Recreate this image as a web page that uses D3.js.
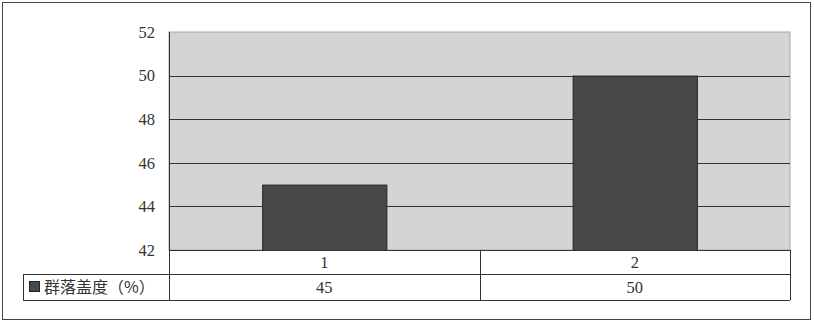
<!DOCTYPE html>
<html>
<head>
<meta charset="utf-8">
<script src="https://cdn.jsdelivr.net/npm/d3@7"></script>
<style>
  body { margin: 0; background: #fff; }
  svg { display: block; }
</style>
</head>
<body>
<svg id="chart" width="814" height="323"></svg>
<script>
// chart data
const categories = ["1", "2"];
const seriesName = "群落盖度（%）";
const seriesValues = [45, 50];
const yTicks = [42, 44, 46, 48, 50, 52];

const width = 814;
const height = 323;
const plot = { left: 169, right: 790, top: 32, bottom: 250 };
const rowH = [24, 26];
const legendLeft = 23;
const numFont = "'Liberation Serif', 'DejaVu Serif', serif";
const cjkFont = "'Noto Sans CJK SC', sans-serif";
const barColor = "#484848";

const svg = d3.select("#chart");

// outer frame
svg.append("rect")
  .attr("x", 2.5).attr("y", 2.5)
  .attr("width", 808).attr("height", 317)
  .attr("fill", "#fff")
  .attr("stroke", "#444");

const x = d3.scaleBand()
  .domain(categories)
  .range([plot.left, plot.right])
  .paddingInner(0.6)
  .paddingOuter(0.3);

const y = d3.scaleLinear()
  .domain([d3.min(yTicks), d3.max(yTicks)])
  .range([plot.bottom, plot.top]);

// plot background
svg.append("rect")
  .attr("x", plot.left).attr("y", plot.top)
  .attr("width", plot.right - plot.left)
  .attr("height", plot.bottom - plot.top)
  .attr("fill", "#d4d4d4")
  .attr("stroke", "#a8a8a8");

// gridlines
svg.append("g")
  .selectAll("line")
  .data(yTicks.slice(1, -1))
  .join("line")
  .attr("x1", plot.left).attr("x2", plot.right)
  .attr("y1", (d) => Math.round(y(d)) + 0.5)
  .attr("y2", (d) => Math.round(y(d)) + 0.5)
  .attr("stroke", "#333");

// y axis labels
const yAxis = svg.append("g")
  .attr("transform", `translate(${plot.left}, 0)`)
  .call(d3.axisLeft(y).tickValues(yTicks).tickSize(0).tickPadding(14));
yAxis.select(".domain").remove();
yAxis.selectAll("text")
  .attr("font-family", numFont)
  .attr("font-size", 16.5)
  .attr("fill", "#333");

// bars
svg.append("g")
  .selectAll("rect")
  .data(seriesValues)
  .join("rect")
  .attr("x", (d, i) => x(categories[i]) + 0.5)
  .attr("y", (d) => y(d) + 0.5)
  .attr("width", x.bandwidth())
  .attr("height", (d) => y(yTicks[0]) - y(d))
  .attr("fill", barColor)
  .attr("stroke", "#222");

// left plot edge
svg.append("line")
  .attr("x1", plot.left + 0.5).attr("x2", plot.left + 0.5)
  .attr("y1", plot.top).attr("y2", plot.bottom + rowH[0] + rowH[1])
  .attr("stroke", "#333");

// data table
const tableTop = plot.bottom;
const rowY = [tableTop, tableTop + rowH[0], tableTop + rowH[0] + rowH[1]];
const table = svg.append("g").attr("stroke", "#333").attr("fill", "none");

table.append("line")
  .attr("x1", plot.left).attr("x2", plot.right)
  .attr("y1", rowY[0] + 0.5).attr("y2", rowY[0] + 0.5);
table.append("line")
  .attr("x1", legendLeft).attr("x2", plot.right)
  .attr("y1", rowY[1] + 0.5).attr("y2", rowY[1] + 0.5);
table.append("line")
  .attr("x1", legendLeft).attr("x2", plot.right)
  .attr("y1", rowY[2] + 0.5).attr("y2", rowY[2] + 0.5);
table.append("line")
  .attr("x1", legendLeft + 0.5).attr("x2", legendLeft + 0.5)
  .attr("y1", rowY[1]).attr("y2", rowY[2]);
table.append("line")
  .attr("x1", plot.right + 0.5).attr("x2", plot.right + 0.5)
  .attr("y1", rowY[0]).attr("y2", rowY[2]);

// column dividers between categories
const step = x.step();
categories.slice(1).forEach((c) => {
  const xv = Math.round(x(c) + x.bandwidth() / 2 - step / 2) + 0.5;
  table.append("line")
    .attr("x1", xv).attr("x2", xv)
    .attr("y1", rowY[0]).attr("y2", rowY[2]);
});

// category labels
svg.append("g")
  .selectAll("text")
  .data(categories)
  .join("text")
  .attr("x", (d) => x(d) + x.bandwidth() / 2)
  .attr("y", rowY[0] + rowH[0] / 2 + 6)
  .attr("text-anchor", "middle")
  .attr("font-family", numFont)
  .attr("font-size", 16.5)
  .attr("fill", "#333")
  .text((d) => d);

// value labels
svg.append("g")
  .selectAll("text")
  .data(seriesValues)
  .join("text")
  .attr("x", (d, i) => x(categories[i]) + x.bandwidth() / 2)
  .attr("y", rowY[1] + rowH[1] / 2 + 6)
  .attr("text-anchor", "middle")
  .attr("font-family", numFont)
  .attr("font-size", 16.5)
  .attr("fill", "#333")
  .text((d) => d);

// legend key
svg.append("rect")
  .attr("x", 29.5).attr("y", 281.5)
  .attr("width", 10).attr("height", 10)
  .attr("fill", barColor)
  .attr("stroke", "#222");
svg.append("text")
  .attr("x", 44)
  .attr("y", rowY[1] + rowH[1] / 2 + 6)
  .attr("font-family", cjkFont)
  .attr("font-size", 16)
  .attr("fill", "#333")
  .text(seriesName);
</script>
</body>
</html>
